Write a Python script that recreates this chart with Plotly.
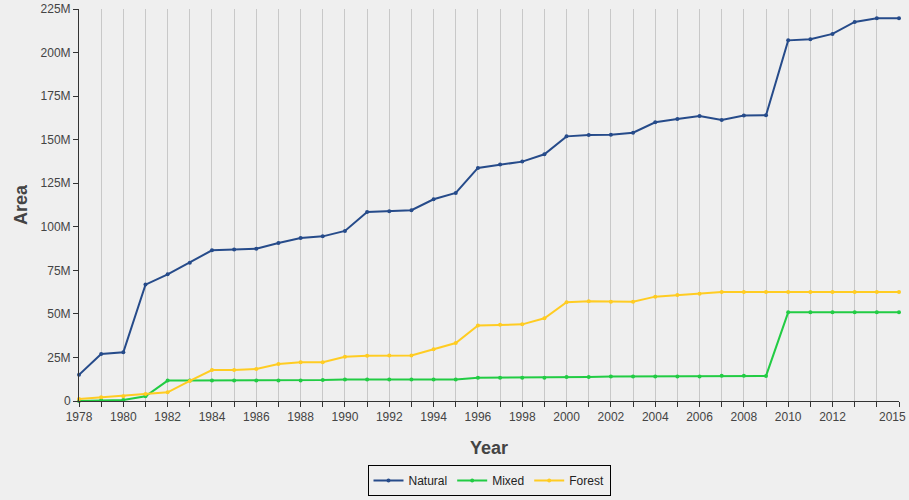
import plotly.graph_objects as go

years = list(range(1978, 2016))

# values in millions
natural_m = [15.0, 27.0, 28.0, 66.8, 72.7, 79.4, 86.5, 86.9, 87.4, 90.7,
             93.5, 94.5, 97.6, 108.5, 108.9, 109.5, 115.8, 119.4, 133.8, 135.7,
             137.4, 141.6, 151.9, 152.7, 152.8, 154.0, 160.0, 161.9, 163.6, 161.3,
             163.8, 164.0, 207.0, 207.6, 210.7, 217.6, 219.7, 219.7]
mixed_m = [0.0, 0.4, 0.6, 2.7, 11.7, 11.7, 11.7, 11.7, 11.7, 11.8,
           11.8, 12.0, 12.4, 12.4, 12.4, 12.4, 12.4, 12.4, 13.4, 13.4,
           13.4, 13.4, 13.8, 13.8, 14.1, 14.1, 14.1, 14.1, 14.1, 14.5,
           14.5, 14.4, 50.9, 50.9, 51.0, 51.0, 51.0, 51.0]
forest_m = [1.1, 2.1, 2.7, 4.0, 5.0, 11.5, 17.8, 17.8, 18.4, 21.2,
            22.2, 22.2, 25.4, 26.0, 26.1, 26.1, 29.7, 33.3, 43.4, 43.8,
            44.0, 47.5, 56.7, 57.2, 57.0, 57.0, 59.9, 60.9, 61.6, 62.6,
            62.6, 62.6, 62.6, 62.6, 62.6, 62.6, 62.6, 62.6]

series_names = ["Natural", "Mixed", "Forest"]
series_colors = ["#264b8a", "#22cc44", "#ffcc22"]

last_year = years[-1]
x_tick_labels = [str(y) if (y % 2 == 0 and y != 2014) else "" for y in years]

fig = go.Figure()
for name, vals, col in zip(series_names, [natural_m, mixed_m, forest_m], series_colors):
    fig.add_trace(go.Scatter(
        x=years, y=[v * 1e6 for v in vals], name=name, mode="lines+markers",
        line=dict(color=col, width=2), marker=dict(color=col, size=4),
        cliponaxis=False,
    ))

font_family = "Liberation Sans, Arial, sans-serif"

# last tick label, kept inside the page edge
fig.add_annotation(x=last_year, xref="x", y=0, yref="paper", yanchor="top",
                   xanchor="right", xshift=9, yshift=-7, showarrow=False,
                   text=str(last_year), font=dict(size=12, color="#444"))

fig.update_layout(
    width=909, height=500,
    margin=dict(l=79, r=10, t=9, b=99, autoexpand=False),
    paper_bgcolor="#efefef", plot_bgcolor="#efefef",
    font=dict(family=font_family, size=12, color="#444"),
    showlegend=True,
    legend=dict(orientation="h", x=0.5, xanchor="center", y=-0.163, yanchor="top",
                bordercolor="#000", borderwidth=1, bgcolor="#efefef",
                font=dict(size=12, color="#222"), itemwidth=30, tracegroupgap=0),
    xaxis=dict(range=[1978, 2015], tickvals=years, ticktext=x_tick_labels,
               showgrid=True, gridcolor="#c8c8c8", gridwidth=1,
               showline=True, linecolor="#333", ticks="outside", ticklen=5,
               tickcolor="#333", zeroline=False, automargin=False,
               ticklabeloverflow="allow",
               title=dict(text="<b>Year</b>", font=dict(size=18, color="#444"), standoff=17)),
    yaxis=dict(range=[0, 225e6], dtick=25e6, tickformat="~s",
               showgrid=False, showline=True, linecolor="#333", ticks="outside",
               ticklen=5, tickcolor="#333", zeroline=False, automargin=False,
               ticklabeloverflow="allow",
               title=dict(text="<b>Area</b>", font=dict(size=18, color="#444"), standoff=8)),
)

fig.write_html("out.html", config={"displayModeBar": False},
               post_script="document.body.style.margin='0';document.body.style.background='#efefef';")
